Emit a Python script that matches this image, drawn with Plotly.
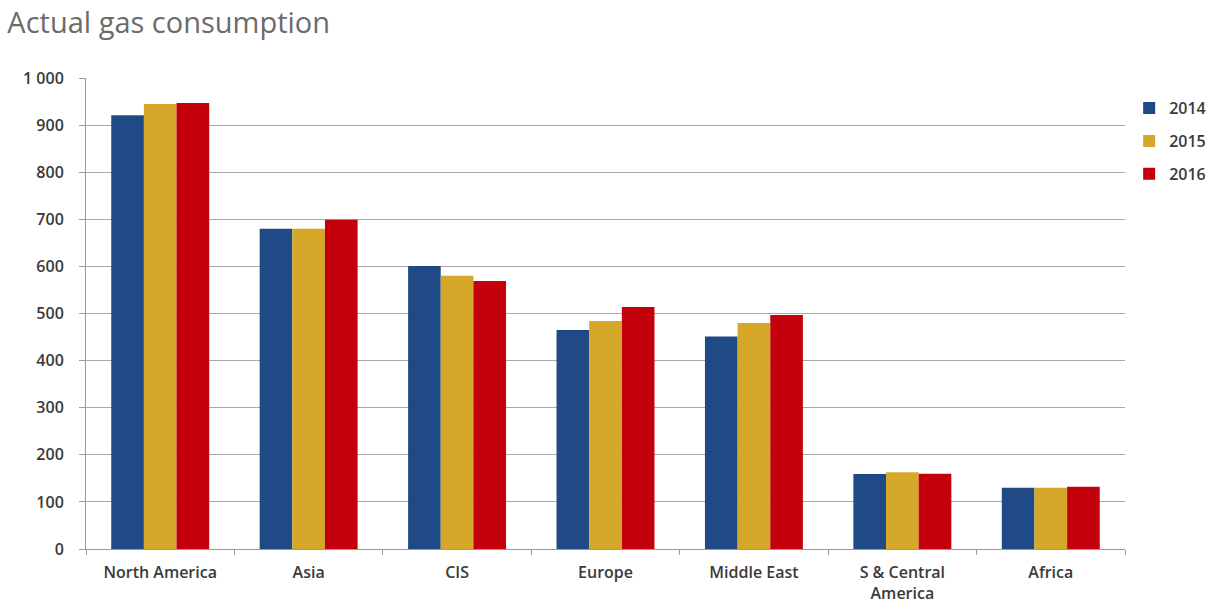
import plotly.graph_objects as go

# Regions and yearly gas consumption
regions = ["North America", "Asia", "CIS", "Europe", "Middle East",
           "S & Central<br>America", "Africa"]
values_2014 = [921, 680, 601, 465, 451, 159, 130]
values_2015 = [945, 680, 580, 484, 480, 163, 130]
values_2016 = [947, 699, 569, 514, 497, 160, 132]

y_tickvals = [0, 100, 200, 300, 400, 500, 600, 700, 800, 900, 1000]
y_ticktext = ["0", "100", "200", "300", "400", "500", "600", "700", "800", "900", "1 000"]

series = [
    ("2014", values_2014, "#1F4A86"),
    ("2015", values_2015, "#D6A82A"),
    ("2016", values_2016, "#C4000C"),
]

fig = go.Figure()
for name, vals, color in series:
    fig.add_trace(go.Bar(name=name, x=regions, y=vals, legendgroup=name,
                         marker=dict(color=color, line=dict(width=0))))

font_family = "Open Sans, Liberation Sans, sans-serif"
label_font = dict(family=font_family, size=16, color="#3a3a3a", weight=600)

fig.update_layout(
    width=1223, height=607,
    paper_bgcolor="white", plot_bgcolor="white",
    margin=dict(l=86, r=98, t=78, b=58, autoexpand=False),
    barmode="group", bargap=0.34, bargroupgap=0,
    font=dict(family=font_family, color="#333333", size=16),
    title=dict(text="Actual gas consumption", x=0.006, xanchor="left",
               y=0.963, yanchor="middle",
               font=dict(family=font_family, size=29, color="#6b6b6b")),
    legend=dict(x=1.004, xanchor="left", y=0.972, yanchor="top",
                font=label_font, tracegroupgap=9, itemwidth=30,
                bgcolor="rgba(0,0,0,0)"),
    showlegend=True,
)

fig.update_xaxes(
    type="category", showline=True, linecolor="#9a9a9a", linewidth=1,
    ticks="outside", tickson="boundaries", ticklen=5, tickcolor="#9a9a9a",
    ticklabelstandoff=9,
    showgrid=False, tickfont=label_font,
)
fig.update_yaxes(
    range=[0, 1000], tickvals=y_tickvals, ticktext=y_ticktext,
    showline=True, linecolor="#9a9a9a", linewidth=1,
    ticks="outside", ticklen=6, tickcolor="#9a9a9a", ticklabelstandoff=12,
    showgrid=True, gridcolor="#a8a8a8", gridwidth=1, zeroline=False,
    tickfont=label_font,
)

fig.write_html("out.html")
